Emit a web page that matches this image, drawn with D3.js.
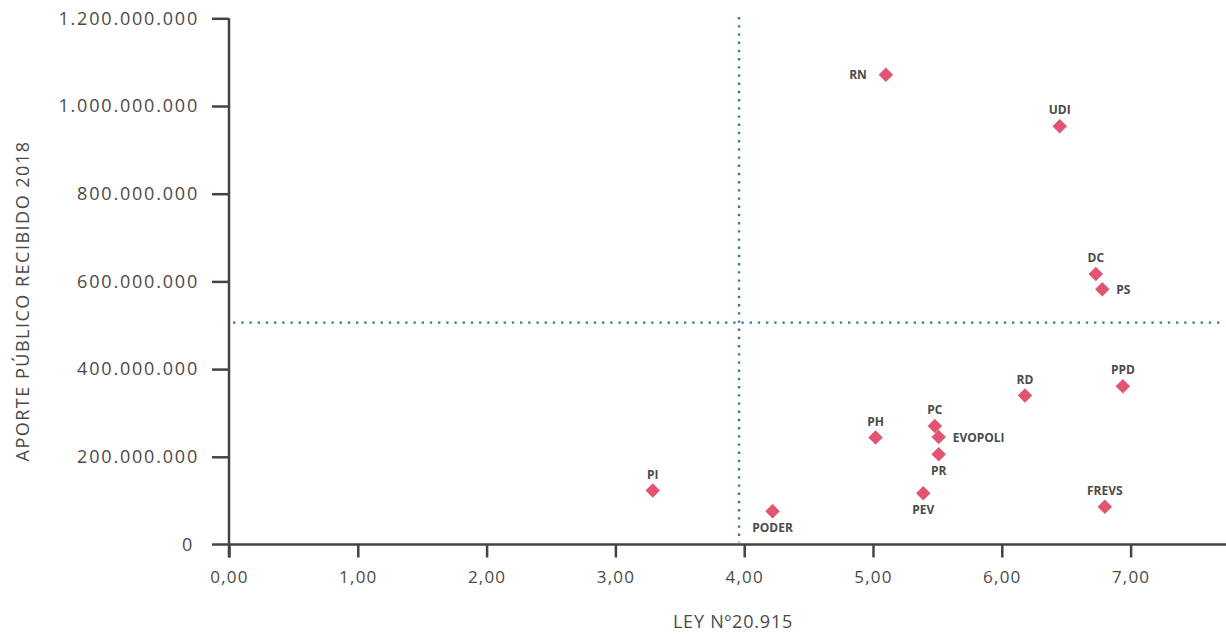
<!DOCTYPE html>
<html>
<head>
<meta charset="utf-8">
<script src="https://d3js.org/d3.v7.min.js"></script>
<style>
    body { margin: 0; background: #fff; }
    svg text { font-family: "Open Sans", sans-serif; fill: #4a4a4a; }
    .tick text { font-size: 17px; letter-spacing: 1.2px; }
    .yaxis .tick text { font-size: 18px; letter-spacing: 1.8px; }
    .ptLabel { font-size: 12px; font-weight: bold; }
    .axisTitle { font-size: 18px; letter-spacing: 0.8px; }
    .yTitle { font-size: 18px; letter-spacing: 1.5px; }
</style>
</head>
<body>
<svg id="chart" width="1226" height="635"></svg>
<script>
// party, Ley 20.915 score, public contribution 2018 (CLP)
const parties = ["RN", "UDI", "DC", "PS", "PPD", "RD", "PC", "EVOPOLI", "PH", "PR", "PI", "PEV", "FREVS", "PODER"];
const leyScore = [5.10, 6.45, 6.73, 6.78, 6.94, 6.18, 5.48, 5.51, 5.02, 5.51, 3.29, 5.39, 6.80, 4.22];
const aporte = [1071e6, 954e6, 617e6, 582e6, 361e6, 340e6, 270e6, 245e6, 244e6, 206e6, 123e6, 117e6, 86e6, 76e6];
const labelSide = ["left", "top", "top", "right", "top", "top", "top", "right", "top", "bottom", "top", "bottom", "top", "bottom"];
const xTicks = [0, 1, 2, 3, 4, 5, 6, 7];
const yTicks = [0, 200e6, 400e6, 600e6, 800e6, 1000e6, 1200e6];
const refX = 3.96;     // vertical reference line
const refY = 506e6;    // horizontal reference line

const data = parties.map((p, i) => ({party: p, x: leyScore[i], y: aporte[i], side: labelSide[i]}));

const es = d3.formatLocale({decimal: ",", thousands: ".", grouping: [3], currency: ["$", ""]});
const fmtY = es.format(",.0f");
const fmtX = es.format(".2f");

const svg = d3.select("#chart");
const x = d3.scaleLinear().domain([0, 8]).range([229, 229 + 8 * 128.8]);
const y = d3.scaleLinear().domain([0, 1.2e9]).range([544.5, 18.3]);
const axisColor = "#444";

// reference lines
svg.append("line")
    .attr("x1", x(refX)).attr("x2", x(refX))
    .attr("y1", 17).attr("y2", y(0) - 2)
    .attr("stroke", "#3d7a98").attr("stroke-width", 2.4)
    .attr("stroke-dasharray", "2.4 5.8");
svg.append("line")
    .attr("x1", 233).attr("x2", 1224)
    .attr("y1", y(refY)).attr("y2", y(refY))
    .attr("stroke", "#3d7a98").attr("stroke-width", 2.4)
    .attr("stroke-dasharray", "2.4 5.8");

// x axis
const gx = svg.append("g").attr("transform", `translate(0,${y(0)})`)
    .call(d3.axisBottom(x).tickValues(xTicks).tickFormat(fmtX).tickSize(13).tickPadding(13));
gx.select(".domain").remove();
gx.selectAll(".tick line").attr("stroke", axisColor).attr("stroke-width", 2.5);
gx.append("line").attr("x1", 212).attr("x2", 1226).attr("stroke", axisColor).attr("stroke-width", 2.5);

// y axis
const gy = svg.append("g").attr("class", "yaxis").attr("transform", `translate(${x(0)},0)`)
    .call(d3.axisLeft(y).tickValues(yTicks).tickFormat(fmtY).tickSize(17).tickPadding(13));
gy.select(".domain").remove();
gy.selectAll(".tick line").attr("stroke", axisColor).attr("stroke-width", 2.5);
gy.selectAll(".tick").filter(d => d === 0).select("line").remove();
gy.append("line").attr("y1", y(1.2e9)).attr("y2", y(0) + 13).attr("stroke", axisColor).attr("stroke-width", 2.5);
gy.selectAll(".tick").filter(d => d === 0).select("text").attr("x", -35);

// axis titles
svg.append("text").attr("class", "axisTitle")
    .attr("x", 733).attr("y", 622).attr("dy", "0.35em")
    .attr("text-anchor", "middle").text("LEY Nº20.915");
svg.append("text").attr("class", "yTitle")
    .attr("transform", "translate(23,301) rotate(-90)")
    .attr("dy", "0.35em").attr("text-anchor", "middle")
    .text("APORTE PÚBLICO RECIBIDO 2018");

// points
svg.append("g").selectAll("path").data(data).join("path")
    .attr("d", d3.symbol(d3.symbolSquare, 105))
    .attr("transform", d => `translate(${x(d.x)},${y(d.y)}) rotate(45)`)
    .attr("fill", "#e05672");

// labels
const off = {
    top: {dx: 0, dy: -16, anchor: "middle"},
    bottom: {dx: 0, dy: 17, anchor: "middle"},
    left: {dx: -19, dy: 0, anchor: "end"},
    right: {dx: 14, dy: 1, anchor: "start"}
};
svg.append("g").selectAll("text").data(data).join("text")
    .attr("class", "ptLabel")
    .attr("x", d => x(d.x) + off[d.side].dx)
    .attr("y", d => y(d.y) + off[d.side].dy)
    .attr("dy", "0.35em")
    .attr("text-anchor", d => off[d.side].anchor)
    .text(d => d.party);
</script>
</body>
</html>
